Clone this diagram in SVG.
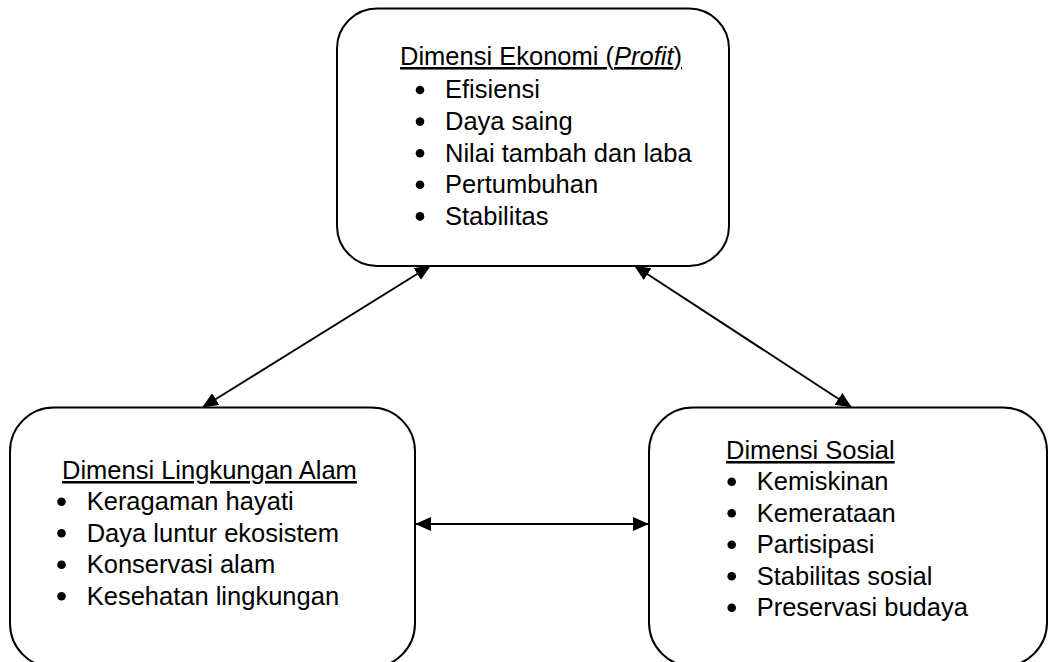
<svg xmlns="http://www.w3.org/2000/svg" width="1049" height="662" viewBox="0 0 1049 662">
<defs>
<style>
.box{fill:#fff;stroke:#000;stroke-width:2}
.t{font-family:"Liberation Sans",Arial,sans-serif;font-size:25.5px;fill:#000}
.u{text-decoration:underline}
.b{fill:#000}
.c{stroke:#000;stroke-width:2;fill:none;marker-start:url(#ah);marker-end:url(#ah)}
</style>
<marker id="ah" markerUnits="userSpaceOnUse" markerWidth="16" markerHeight="14" refX="15" refY="7" orient="auto-start-reverse" viewBox="0 0 16 14">
<path d="M0,0 L16,7 L0,14 z" fill="#000"/>
</marker>
</defs>
<rect width="1049" height="662" fill="#fff"/>
<g id="node-ekonomi">
<rect class="box" x="337" y="8.5" width="392" height="257.5" rx="40" ry="40"/>
<text class="t u" x="400" y="65">Dimensi Ekonomi (<tspan font-style="italic">Profit</tspan>)</text>
<circle class="b" cx="420" cy="90" r="4.3"/><text class="t" x="445" y="98.3">Efisiensi</text>
<circle class="b" cx="420" cy="121.6" r="4.3"/><text class="t" x="445" y="130">Daya saing</text>
<circle class="b" cx="420" cy="153.2" r="4.3"/><text class="t" x="445" y="161.6">Nilai tambah dan laba</text>
<circle class="b" cx="420" cy="184.8" r="4.3"/><text class="t" x="445" y="193.2">Pertumbuhan</text>
<circle class="b" cx="420" cy="216.4" r="4.3"/><text class="t" x="445" y="224.8">Stabilitas</text>
</g>
<g id="node-lingkungan">
<rect class="box" x="10" y="407.5" width="405" height="260" rx="44" ry="44"/>
<text class="t u" x="62" y="479">Dimensi Lingkungan Alam</text>
<circle class="b" cx="61.5" cy="501.7" r="4.3"/><text class="t" x="86.7" y="510">Keragaman hayati</text>
<circle class="b" cx="61.5" cy="533.2" r="4.3"/><text class="t" x="86.7" y="541.5">Daya luntur ekosistem</text>
<circle class="b" cx="61.5" cy="564.7" r="4.3"/><text class="t" x="86.7" y="573">Konservasi alam</text>
<circle class="b" cx="61.5" cy="596.2" r="4.3"/><text class="t" x="86.7" y="604.5">Kesehatan lingkungan</text>
</g>
<g id="node-sosial">
<rect class="box" x="649" y="407.5" width="398" height="259" rx="44" ry="44"/>
<text class="t u" x="726" y="459">Dimensi Sosial</text>
<circle class="b" cx="731.7" cy="481.7" r="4.3"/><text class="t" x="756.7" y="490">Kemiskinan</text>
<circle class="b" cx="731.7" cy="513.2" r="4.3"/><text class="t" x="756.7" y="521.5">Kemerataan</text>
<circle class="b" cx="731.7" cy="544.7" r="4.3"/><text class="t" x="756.7" y="553">Partisipasi</text>
<circle class="b" cx="731.7" cy="576.2" r="4.3"/><text class="t" x="756.7" y="584.5">Stabilitas sosial</text>
<circle class="b" cx="731.7" cy="607.7" r="4.3"/><text class="t" x="756.7" y="616">Preservasi budaya</text>
</g>
<g id="connectors">
<line class="c" x1="430" y1="266" x2="203" y2="407"/>
<line class="c" x1="635" y1="266" x2="851" y2="407"/>
<line class="c" x1="416" y1="524" x2="648" y2="524"/>
</g>
</svg>
